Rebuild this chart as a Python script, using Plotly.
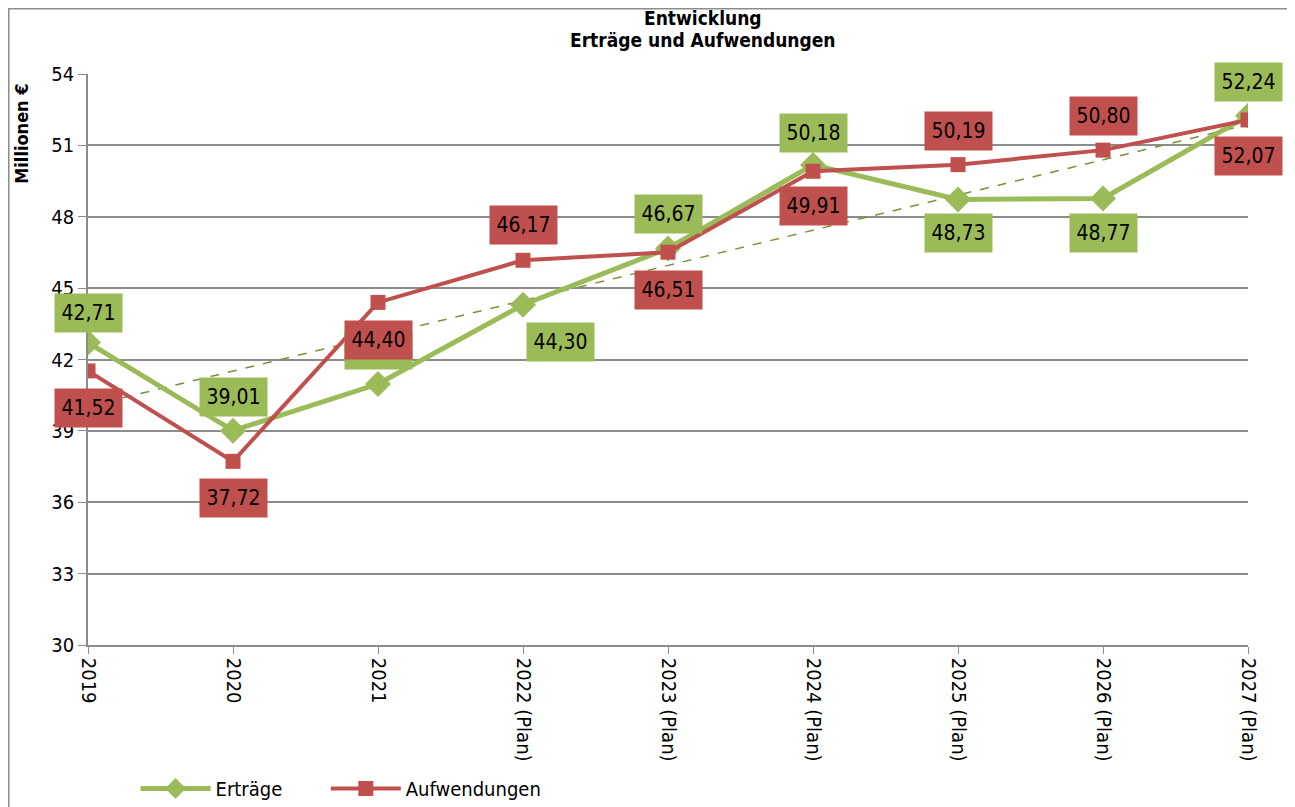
import numpy as np
import plotly.graph_objects as go

# =====================================================
# DATA
# =====================================================
years = ["2019", "2020", "2021", "2022 (Plan)", "2023 (Plan)",
         "2024 (Plan)", "2025 (Plan)", "2026 (Plan)", "2027 (Plan)"]
ertraege = [42.71, 39.01, 40.97, 44.30, 46.67, 50.18, 48.73, 48.77, 52.24]
aufwendungen = [41.52, 37.72, 44.40, 46.17, 46.51, 49.91, 50.19, 50.80, 52.07]

# label offsets (px) relative to the point
ertr_shift = [(0, 30), (0, 34), (0, 34), (37, -37), (0, 34),
              (0, 32), (0, -34), (0, -35), (0, 34)]
aufw_shift = [(0, -37), (0, -37), (0, -38), (0, 35), (0, -38),
              (0, -35), (0, 34), (0, 34), (0, -36)]

GREEN = "#9BBB59"
RED = "#C0504D"
GRID = "#8C8C8C"
FONT = "DejaVu Sans Condensed, Liberation Sans Narrow, Arial Narrow, sans-serif"

x = list(range(len(years)))

fig = go.Figure()

# Trend line (linear fit over Erträge)
k, d = np.polyfit(x, ertraege, 1)
fig.add_trace(go.Scatter(
    x=[x[0], x[-1]], y=[k * x[0] + d, k * x[-1] + d],
    mode="lines", line=dict(color="#77933C", width=1.5, dash="dash"),
    showlegend=False, hoverinfo="skip"
))

fig.add_trace(go.Scatter(
    x=x, y=ertraege, mode="lines+markers", name="Erträge",
    line=dict(color=GREEN, width=5),
    marker=dict(symbol="diamond", size=20, color=GREEN),
    legend="legend"
))
fig.add_trace(go.Scatter(
    x=x, y=aufwendungen, mode="lines+markers", name="Aufwendungen",
    line=dict(color=RED, width=4),
    marker=dict(symbol="square", size=15, color=RED),
    legend="legend2"
))

def fmt(v):
    return f"{v:.2f}".replace(".", ",")

annotations = []
for vals, shifts, col in [(ertraege, ertr_shift, GREEN), (aufwendungen, aufw_shift, RED)]:
    for i, v in enumerate(vals):
        annotations.append(dict(
            x=x[i], y=v, xref="x", yref="y", text=fmt(v), showarrow=False,
            xshift=shifts[i][0], yshift=shifts[i][1],
            bgcolor=col, width=65, height=36,
            font=dict(family=FONT, size=21, color="black")
        ))

# title (two lines) and y axis title
annotations.append(dict(
    x=0.530, y=1.098, xref="paper", yref="paper", text="<b>Entwicklung</b>",
    xanchor="center", yanchor="middle",
    showarrow=False, font=dict(family=FONT, size=19, color="black")
))
annotations.append(dict(
    x=0.530, y=1.0595, xref="paper", yref="paper",
    text="<b>Erträge und Aufwendungen</b>",
    xanchor="center", yanchor="middle",
    showarrow=False, font=dict(family=FONT, size=19, color="black")
))
annotations.append(dict(
    x=-0.057, y=0.895, xref="paper", yref="paper", text="<b>Millionen €</b>",
    xanchor="center", yanchor="middle",
    textangle=-90, showarrow=False,
    font=dict(family=FONT, size=18, color="black")
))

legend_style = dict(
    orientation="h", y=-0.217, xanchor="left", yanchor="top",
    font=dict(family=FONT, size=20, color="black"),
    itemwidth=70, bgcolor="rgba(0,0,0,0)"
)

fig.update_layout(
    width=1295, height=807,
    margin=dict(l=80, r=55, t=66, b=170, autoexpand=False),
    paper_bgcolor="white", plot_bgcolor="white",
    font=dict(family=FONT, size=20, color="black"),
    xaxis=dict(
        range=[0, 8], tickvals=x, ticktext=years, tickangle=90,
        showgrid=False, showline=True, linecolor=GRID, linewidth=1.5,
        ticks="outside", ticklen=7, tickcolor=GRID, zeroline=False,
        automargin=False,
        tickfont=dict(family=FONT, size=20, color="black")
    ),
    yaxis=dict(
        range=[30, 54], dtick=3, showgrid=True, gridcolor=GRID, gridwidth=1.5,
        showline=True, linecolor=GRID, linewidth=1.5,
        ticks="outside", ticklen=8, tickcolor=GRID, zeroline=False,
        automargin=False,
        tickfont=dict(family=FONT, size=20, color="black")
    ),
    legend=dict(x=0.041, **legend_style),
    legend2=dict(x=0.205, **legend_style),
    annotations=annotations,
    shapes=[dict(
        type="rect", xref="paper", yref="paper",
        x0=-0.0683, y0=-0.4, x1=1.06, y1=1.1143,
        line=dict(color="#8C8C8C", width=1.5), fillcolor="rgba(0,0,0,0)",
        layer="below"
    )],
    showlegend=True
)

fig.write_html("out.html")
